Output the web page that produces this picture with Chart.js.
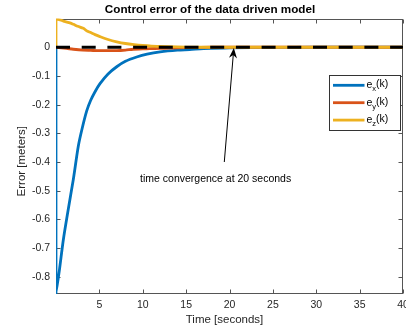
<!DOCTYPE html>
<html><head><meta charset="utf-8">
<script src="https://cdn.jsdelivr.net/npm/chart.js@4/dist/chart.umd.min.js"></script>
<style>html,body{margin:0;padding:0;background:#fff;}canvas{display:block;}</style>
</head><body>
<canvas id="c" width="406" height="331"></canvas>
<script>
const FONT = "'Liberation Sans', Arial, Helvetica, sans-serif";
const chartTitle = 'Control error of the data driven model';
const xAxisTitle = 'Time [seconds]';
const yAxisTitle = 'Error [meters]';
const xTicks = [5, 10, 15, 20, 25, 30, 35, 40];
const yTicks = [-0.8, -0.7, -0.6, -0.5, -0.4, -0.3, -0.2, -0.1, 0];
const seriesLabels = ['e_x(k)', 'e_y(k)', 'e_z(k)'];
const seriesColors = ['#0072BD', '#D95319', '#EDB120'];

const exTime   = [0, 0, 0.4, 0.85, 1.4, 2.0, 2.57, 3.0, 3.54, 4.0, 4.5, 5.07, 6, 7, 8, 9.3, 10.5, 12, 14, 15.4, 17, 20, 25, 30, 40];
const exValues = [0, -0.86, -0.775, -0.67, -0.567, -0.46, -0.345, -0.285, -0.222, -0.185, -0.155, -0.127, -0.093, -0.068, -0.049, -0.034, -0.024, -0.016, -0.010, -0.008, -0.005, -0.002, -0.0005, 0, 0];

const eyTime   = [0, 1.2, 2, 3.1, 4, 5, 6, 7, 8, 8.9, 10, 10.8, 12, 13, 14, 16, 18, 40];
const eyValues = [0, -0.004, -0.007, -0.010, -0.011, -0.012, -0.012, -0.012, -0.010, -0.007, -0.006, -0.005, -0.004, -0.003, -0.002, -0.001, 0, 0];

const ezTime   = [0, 0, 0.5, 0.84, 1.5, 2, 2.5, 3.15, 3.5, 4, 4.5, 5.07, 6, 7, 8, 9, 10, 11, 12, 14, 16, 40];
const ezValues = [0, 0.097, 0.095, 0.091, 0.086, 0.080, 0.073, 0.066, 0.058, 0.051, 0.044, 0.037, 0.027, 0.019, 0.013, 0.009, 0.006, 0.004, 0.003, 0.001, 0, 0];

const refTime = [0, 40];
const refValues = [0, 0];

const annotationText = 'time convergence at 20 seconds';
const arrowTip = [20.5, -0.003];
const arrowTail = [19.4, -0.40];
const textAnchor = [18.4, -0.46];

function pts(t, v) { return t.map((x, i) => ({ x: x, y: v[i] })); }

const datasets = [
  { label: 'reference', data: pts(refTime, refValues), borderColor: '#000', borderWidth: 3, borderDash: [14, 11.7], tension: 0, order: 0, inLegend: false },
  { label: seriesLabels[2], data: pts(ezTime, ezValues), borderColor: seriesColors[2], order: 1 },
  { label: seriesLabels[1], data: pts(eyTime, eyValues), borderColor: seriesColors[1], order: 2 },
  { label: seriesLabels[0], data: pts(exTime, exValues), borderColor: seriesColors[0], order: 3 }
];
datasets.forEach(d => {
  d.pointRadius = 0; d.fill = false;
  if (d.borderWidth === undefined) d.borderWidth = 2.8;
  if (d.tension === undefined) d.tension = 0.3;
  d.borderCapStyle = 'butt'; d.borderJoinStyle = 'round';
});

const framePlugin = {
  id: 'frame',
  afterLayout(chart) {
    chart.titleBlock.left = 17; chart.titleBlock.right = 403;
    const sx = chart.scales.x, sy = chart.scales.y;
    if (!sx._shifted) { const o = sx.drawTitle; sx.drawTitle = function () { const c = this.ctx; c.save(); c.translate(-5, 0); o.call(this); c.restore(); }; sx._shifted = true; }
    if (!sy._shifted) { const o = sy.drawTitle; sy.drawTitle = function () { const c = this.ctx; c.save(); c.translate(0, 5); o.call(this); c.restore(); }; sy._shifted = true; }
  },
  beforeDatasetsDraw(chart) {
    const { ctx, chartArea: a, scales: { x, y } } = chart;
    const L = Math.round(a.left) + 0.5, R = Math.round(a.right) - 0.5, T = Math.round(a.top) + 0.5, B = Math.round(a.bottom) - 0.5;
    ctx.save();
    ctx.strokeStyle = '#555'; ctx.lineWidth = 1;
    ctx.strokeRect(L, T, R - L, B - T);
    ctx.beginPath();
    xTicks.forEach(v => { const p = Math.round(x.getPixelForValue(v)) + 0.5; ctx.moveTo(p, B); ctx.lineTo(p, B - 4); ctx.moveTo(p, T); ctx.lineTo(p, T + 4); });
    yTicks.forEach(v => { const p = Math.round(y.getPixelForValue(v)) + 0.5; ctx.moveTo(L, p); ctx.lineTo(L + 4, p); ctx.moveTo(R, p); ctx.lineTo(R - 4, p); });
    ctx.stroke();
    ctx.restore();
  },
  afterDatasetsDraw(chart) {
    const { ctx, scales: { x, y } } = chart;
    ctx.save();
    const tx = x.getPixelForValue(arrowTip[0]), ty = y.getPixelForValue(arrowTip[1]);
    const sx = x.getPixelForValue(arrowTail[0]), sy = y.getPixelForValue(arrowTail[1]);
    const dx = tx - sx, dy = ty - sy, len = Math.hypot(dx, dy);
    const ux = dx / len, uy = dy / len, nx = -uy, ny = ux;
    ctx.strokeStyle = '#000'; ctx.fillStyle = '#000'; ctx.lineWidth = 1;
    ctx.beginPath(); ctx.moveTo(sx, sy); ctx.lineTo(tx - ux * 6, ty - uy * 6); ctx.stroke();
    ctx.beginPath();
    ctx.moveTo(tx, ty);
    ctx.lineTo(tx - ux * 10 + nx * 4, ty - uy * 10 + ny * 4);
    ctx.lineTo(tx - ux * 7, ty - uy * 7);
    ctx.lineTo(tx - ux * 10 - nx * 4, ty - uy * 10 - ny * 4);
    ctx.closePath(); ctx.fill();
    ctx.font = '10.5px ' + FONT; ctx.textAlign = 'center'; ctx.textBaseline = 'middle';
    ctx.fillText(annotationText, x.getPixelForValue(textAnchor[0]), y.getPixelForValue(textAnchor[1]));
    const bx = 329.5, by = 75.5, bw = 71, bh = 55;
    ctx.fillStyle = '#fff'; ctx.fillRect(bx, by, bw, bh);
    ctx.strokeStyle = '#333'; ctx.strokeRect(bx, by, bw, bh);
    const items = chart.data.datasets.filter(d => d.inLegend !== false);
    const ordered = seriesLabels.map(l => items.find(d => d.label === l));
    ordered.forEach((d, i) => {
      const ry = 85.3 + i * 17.4;
      ctx.strokeStyle = d.borderColor; ctx.lineWidth = 2.8;
      ctx.beginPath(); ctx.moveTo(333, ry); ctx.lineTo(364.5, ry); ctx.stroke();
      const m = d.label.match(/^(.*?)_(.)(.*)$/);
      ctx.fillStyle = '#000'; ctx.textAlign = 'left'; ctx.textBaseline = 'middle';
      let cx = 366.5;
      ctx.font = '10.5px ' + FONT; ctx.fillText(m[1], cx, ry); cx += ctx.measureText(m[1]).width;
      ctx.font = '7.5px ' + FONT; ctx.fillText(m[2], cx, ry + 4); cx += ctx.measureText(m[2]).width;
      ctx.font = '10.5px ' + FONT; ctx.fillText(m[3], cx, ry - 1);
    });
    ctx.restore();
  }
};

new Chart(document.getElementById('c'), {
  type: 'line',
  data: { datasets: datasets },
  plugins: [framePlugin],
  options: {
    responsive: false, animation: false, devicePixelRatio: 1,
    layout: { padding: { left: 0, right: 3, top: 0, bottom: 0 } },
    plugins: {
      legend: { display: false },
      tooltip: { enabled: false },
      title: { display: true, text: chartTitle, color: '#000', font: { family: FONT, size: 11.7, weight: 'bold' }, padding: { top: 2.6, bottom: 1.9 } }
    },
    scales: {
      x: {
        type: 'linear', min: 0, max: 40,
        grid: { display: false, drawTicks: false }, border: { display: false },
        ticks: { color: '#262626', font: { family: FONT, size: 10.5 }, padding: 4.7, maxRotation: 0 },
        title: { display: true, text: xAxisTitle, color: '#262626', font: { family: FONT, size: 11.5 }, padding: { top: 0, bottom: 4.1 } },
        afterBuildTicks: s => { s.ticks = xTicks.map(v => ({ value: v })); },
        afterFit: s => { s.height = 37; s.paddingLeft = 0; s.paddingRight = 0; }
      },
      y: {
        type: 'linear', min: -0.86, max: 0.1,
        grid: { display: false, drawTicks: false }, border: { display: false },
        ticks: { color: '#262626', font: { family: FONT, size: 10.5 }, padding: 6, callback: v => (Math.abs(v) < 1e-9 ? '0' : v.toFixed(1)) },
        title: { display: true, text: yAxisTitle, color: '#262626', font: { family: FONT, size: 11.5 }, padding: { top: 14.8, bottom: 0 } },
        afterBuildTicks: s => { s.ticks = yTicks.map(v => ({ value: v })); },
        afterFit: s => { s.width = 56; s.paddingTop = 0; s.paddingBottom = 0; }
      }
    }
  }
});
</script>
</body></html>
